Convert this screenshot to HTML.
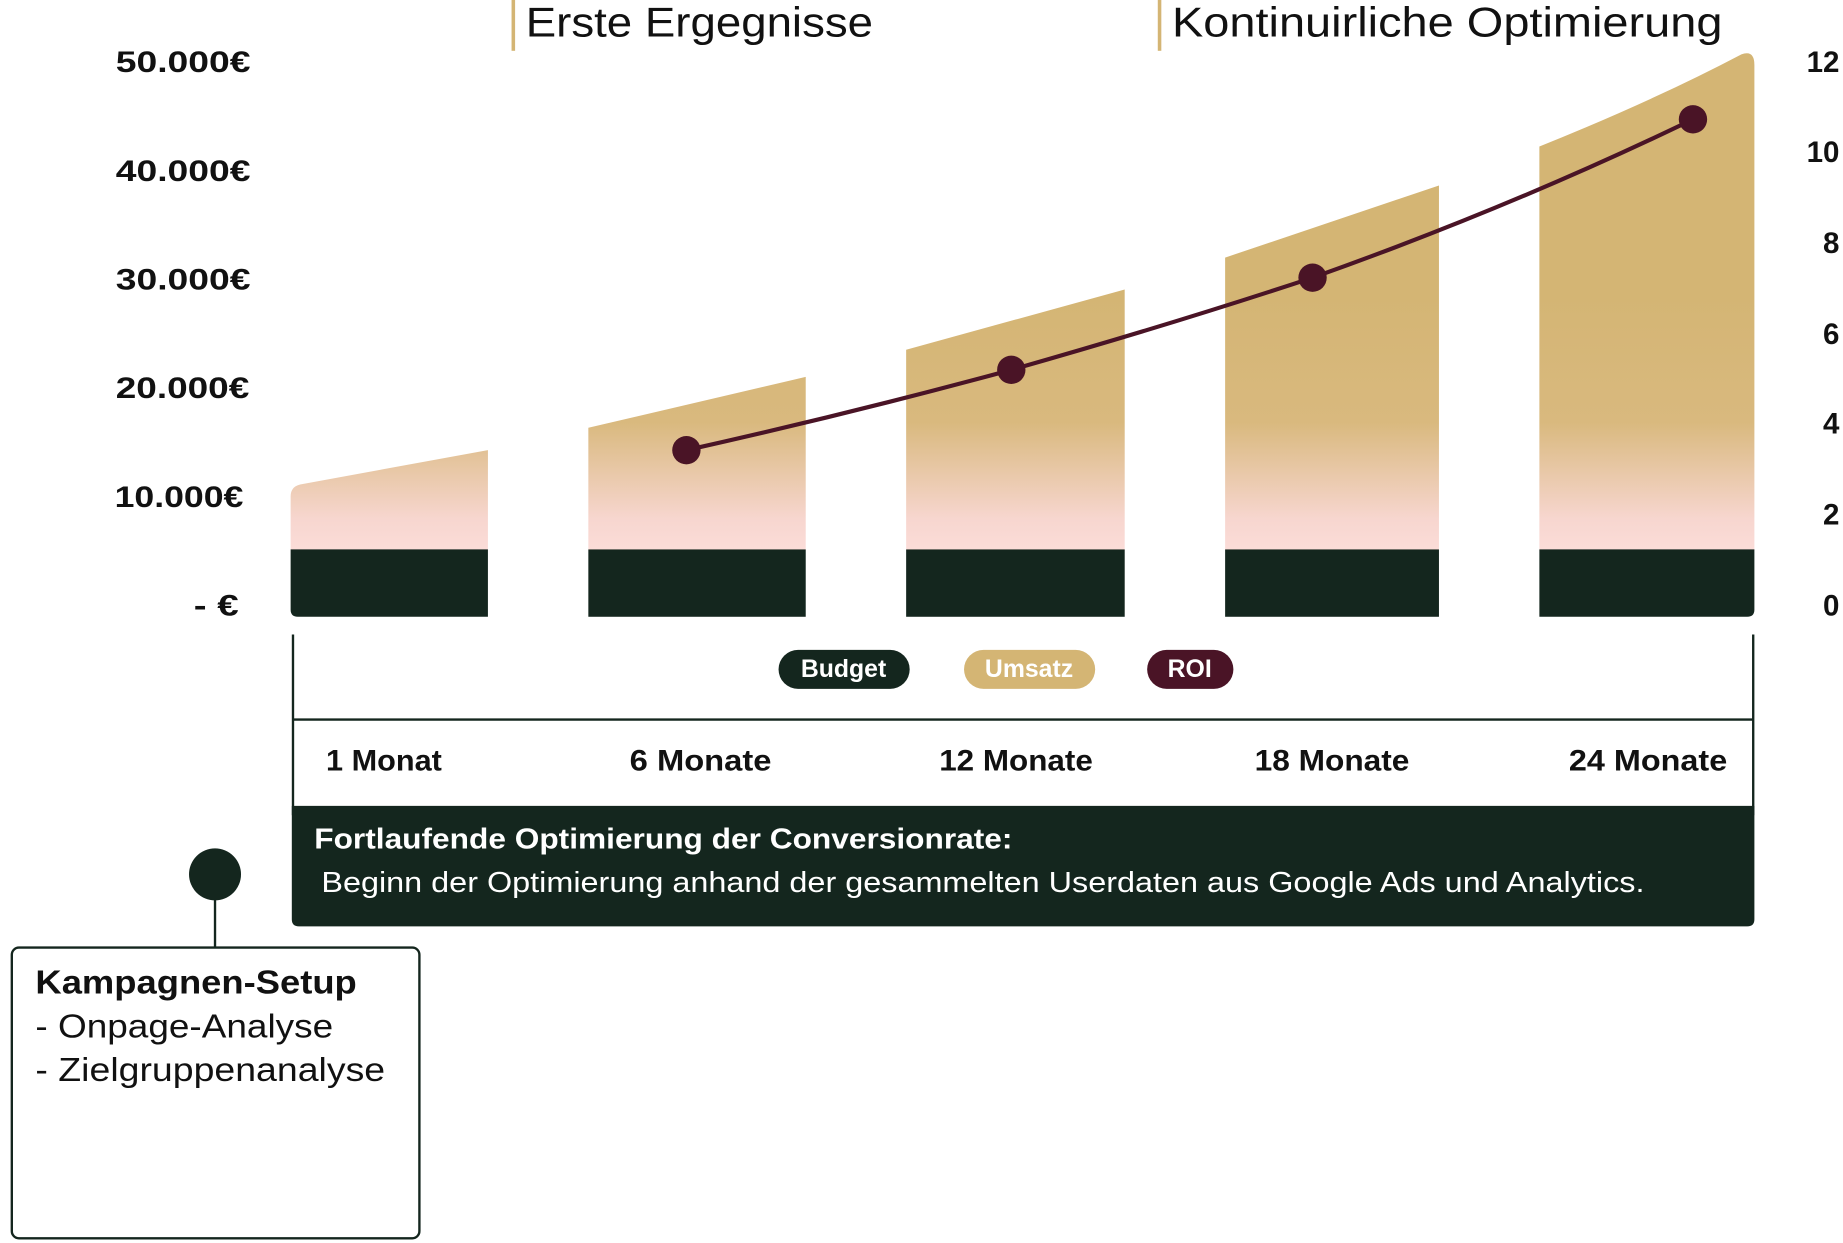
<!DOCTYPE html>
<html><head><meta charset="utf-8"><style>
html,body{margin:0;padding:0;background:#fff;}
svg{display:block;}
text{font-family:"Liberation Sans",sans-serif;}
</style></head><body>
<svg width="1843" height="1243" viewBox="0 0 1560 1052" preserveAspectRatio="none" xmlns="http://www.w3.org/2000/svg">
<defs>
<linearGradient id="g" x1="0" y1="250" x2="0" y2="465" gradientUnits="userSpaceOnUse">
<stop offset="0" stop-color="#d4b574"/>
<stop offset="0.5" stop-color="#d9b97e"/>
<stop offset="0.88" stop-color="#f7d6cf"/>
<stop offset="1" stop-color="#fbdcd8"/>
</linearGradient>
</defs>
<rect x="433" y="0" width="3" height="43" fill="#d4b574"/>
<text x="445" y="31" font-size="35" fill="#111" textLength="294" lengthAdjust="spacingAndGlyphs">Erste Ergegnisse</text>
<rect x="980" y="0" width="3" height="43" fill="#d4b574"/>
<text x="992" y="31" font-size="35" fill="#111" textLength="466" lengthAdjust="spacingAndGlyphs">Kontinuirliche Optimierung</text>

<g font-size="25" font-weight="bold" fill="#111">
<text x="98" y="61" textLength="114" lengthAdjust="spacingAndGlyphs">50.000€</text>
<text x="98" y="153" textLength="114" lengthAdjust="spacingAndGlyphs">40.000€</text>
<text x="98" y="245" textLength="114" lengthAdjust="spacingAndGlyphs">30.000€</text>
<text x="98" y="337" textLength="113" lengthAdjust="spacingAndGlyphs">20.000€</text>
<text x="97" y="429" textLength="109" lengthAdjust="spacingAndGlyphs">10.000€</text>
<text x="164" y="521" textLength="38" lengthAdjust="spacingAndGlyphs">- €</text>
</g>
<g font-size="25" font-weight="bold" fill="#111" text-anchor="end">
<text x="1557" y="61">12</text>
<text x="1557" y="137">10</text>
<text x="1557" y="214">8</text>
<text x="1557" y="291">6</text>
<text x="1557" y="367">4</text>
<text x="1557" y="444">2</text>
<text x="1557" y="521">0</text>
</g>

<path d="M246 420 Q246 412 254 410 L413 381 L413 466 L246 466Z" fill="url(#g)"/>
<path d="M498 362 L682 319 L682 466 L498 466Z" fill="url(#g)"/>
<path d="M767 296 L952 245 L952 466 L767 466Z" fill="url(#g)"/>
<path d="M1037 218 L1218 157 L1218 466 L1037 466Z" fill="url(#g)"/>
<path d="M1303 124 Q1400 85 1474 46 Q1485 42 1485 55 L1485 466 L1303 466Z" fill="url(#g)"/>
<g fill="#14261e">
<path d="M246 465 H413 V522 H252 Q246 522 246 516Z"/>
<rect x="498" y="465" width="184" height="57"/>
<rect x="767" y="465" width="185" height="57"/>
<rect x="1037" y="465" width="181" height="57"/>
<path d="M1303 465 H1485 V516 Q1485 522 1479 522 H1303Z"/>
</g>
<path d="M581 381 Q720 350 856 313 Q990 275 1111 235 Q1280 175 1433 101" fill="none" stroke="#4a1426" stroke-width="3.5"/>
<g fill="#4a1426">
<circle cx="581" cy="381" r="12"/><circle cx="856" cy="313" r="12"/><circle cx="1111" cy="235" r="12"/><circle cx="1433" cy="101" r="12"/>
</g>

<g stroke="#14261e" stroke-width="2">
<line x1="248" y1="537" x2="248" y2="690"/>
<line x1="1484" y1="537" x2="1484" y2="690"/>
<line x1="248" y1="609" x2="1484" y2="609"/>
</g>
<rect x="659" y="550" width="111" height="33" rx="16.5" fill="#14261e"/>
<rect x="816" y="550" width="111" height="33" rx="16.5" fill="#d4b574"/>
<rect x="971" y="550" width="73" height="33" rx="16.5" fill="#4a1426"/>
<g font-size="21" font-weight="bold" fill="#fff" text-anchor="middle">
<text x="714" y="573">Budget</text><text x="871" y="573">Umsatz</text><text x="1007" y="573">ROI</text>
</g>
<g font-size="25" font-weight="bold" fill="#111">
<text x="276" y="652" textLength="98" lengthAdjust="spacingAndGlyphs">1 Monat</text>
<text x="533" y="652" textLength="120" lengthAdjust="spacingAndGlyphs">6 Monate</text>
<text x="795" y="652" textLength="130" lengthAdjust="spacingAndGlyphs">12 Monate</text>
<text x="1062" y="652" textLength="131" lengthAdjust="spacingAndGlyphs">18 Monate</text>
<text x="1328" y="652" textLength="134" lengthAdjust="spacingAndGlyphs">24 Monate</text>
</g>
<path d="M247 682 H1485 V778 Q1485 784 1479 784 H253 Q247 784 247 778Z" fill="#14261e"/>
<text x="266" y="718" font-size="24" font-weight="bold" fill="#fff" textLength="591" lengthAdjust="spacingAndGlyphs">Fortlaufende Optimierung der Conversionrate:</text>
<text x="272" y="755" font-size="24" fill="#fff" textLength="1120" lengthAdjust="spacingAndGlyphs">Beginn der Optimierung anhand der gesammelten Userdaten aus Google Ads und Analytics.</text>

<circle cx="182" cy="740" r="22" fill="#14261e"/>
<line x1="182" y1="760" x2="182" y2="802" stroke="#14261e" stroke-width="2"/>
<rect x="10" y="802" width="345" height="246" rx="6" fill="#fff" stroke="#14261e" stroke-width="2"/>
<text x="30" y="841" font-size="28" font-weight="bold" fill="#111" textLength="272" lengthAdjust="spacingAndGlyphs">Kampagnen-Setup</text>
<text x="30" y="878" font-size="28" fill="#111" textLength="252" lengthAdjust="spacingAndGlyphs">- Onpage-Analyse</text>
<text x="30" y="915" font-size="28" fill="#111" textLength="296" lengthAdjust="spacingAndGlyphs">- Zielgruppenanalyse</text>
</svg>
</body></html>
